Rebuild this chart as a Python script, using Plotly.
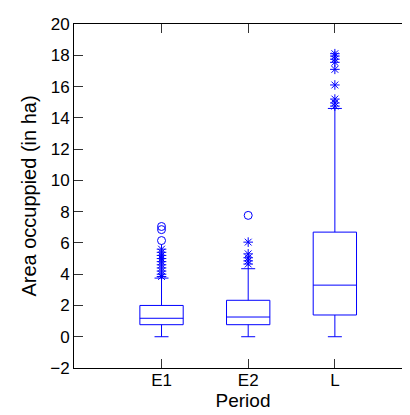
import plotly.graph_objects as go

categories = ["E1", "E2", "L"]
positions = [1, 2, 3]
q1 = [0.77, 0.77, 1.39]
median = [1.18, 1.26, 3.30]
q3 = [2.0, 2.33, 6.69]
lower_whisker = [0.0, 0.0, 0.0]
upper_whisker = [3.75, 4.35, 14.6]

extreme_outliers = {  # asterisks
    "E1": [3.85, 4.0, 4.2, 4.4, 4.6, 4.8, 5.0, 5.2, 5.4, 5.6],
    "E2": [4.65, 4.85, 5.05, 5.3, 6.05],
    "L": [14.75, 14.95, 15.2, 16.1, 17.1, 17.55, 17.75, 17.95, 18.1],
}
mild_outliers = {  # circles
    "E1": [6.15, 6.85, 7.05],
    "E2": [7.76],
    "L": [],
}

BLUE = "#0000ff"
fig = go.Figure()

fig.add_trace(go.Box(
    x=positions, q1=q1, median=median, q3=q3,
    lowerfence=lower_whisker, upperfence=upper_whisker,
    width=0.5, boxpoints=False,
    line=dict(color=BLUE, width=1), fillcolor="rgba(0,0,0,0)",
    whiskerwidth=0, showlegend=False, hoverinfo="skip",
))

# whisker caps
fig.add_trace(go.Scatter(
    x=positions + positions, y=lower_whisker + upper_whisker,
    mode="markers",
    marker=dict(symbol="line-ew", size=10, color=BLUE, line=dict(width=1, color=BLUE)),
    showlegend=False, hoverinfo="skip",
))

for pos, cat in zip(positions, categories):
    ys = extreme_outliers[cat]
    if ys:
        fig.add_trace(go.Scatter(
            x=[pos] * len(ys), y=ys, mode="markers",
            marker=dict(symbol="asterisk-open", size=8, color=BLUE, line=dict(width=1, color=BLUE)),
            showlegend=False,
        ))
    ys = mild_outliers[cat]
    if ys:
        fig.add_trace(go.Scatter(
            x=[pos] * len(ys), y=ys, mode="markers",
            marker=dict(symbol="circle-open", size=8, color=BLUE, line=dict(width=1, color=BLUE)),
            showlegend=False,
        ))

axis_common = dict(
    showline=True, linecolor="black", linewidth=1, mirror="ticks",
    ticks="inside", ticklen=9, tickcolor="#333333", tickwidth=1,
    showgrid=False, zeroline=False,
    tickfont=dict(family="Liberation Sans, Arial, sans-serif", size=17, color="black"),
)

fig.update_layout(
    width=410, height=415,
    margin=dict(l=66, r=6, t=16, b=55),
    plot_bgcolor="white", paper_bgcolor="white",
    font=dict(family="Liberation Sans, Arial, sans-serif", color="black"),
    xaxis=dict(
        range=[-0.01, 3.89], tickmode="array", tickvals=positions, ticktext=categories,
        title=dict(text="Period", font=dict(size=19), standoff=2),
        ticklabelstandoff=-3,
        **axis_common,
    ),
    yaxis=dict(
        range=[-2, 20], tickmode="array", tickvals=list(range(-2, 21, 2)),
        title=dict(text="Area occuppied (in ha)", font=dict(size=20), standoff=8),
        **axis_common,
    ),
)

fig.write_html("out.html")
